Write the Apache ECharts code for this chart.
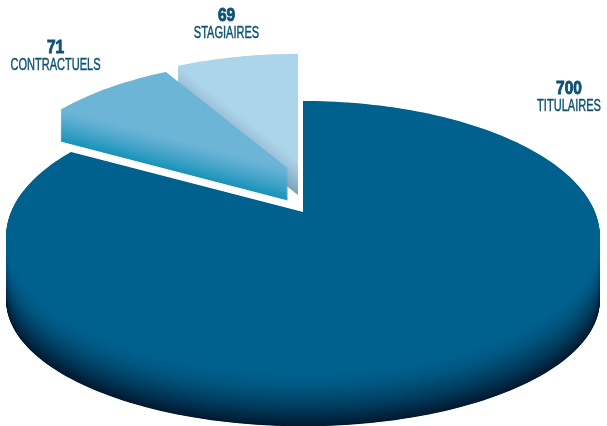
<!DOCTYPE html>
<html>
<head>
<meta charset="utf-8">
<style>html,body{margin:0;padding:0;background:#fff}#chart{width:607px;height:426px}</style>
<script src="https://cdn.jsdelivr.net/npm/echarts@6/dist/echarts.min.js"></script>
</head>
<body>
<div id="chart"></div>
<script>
// Staff breakdown, clockwise from twelve o'clock
const categories = ['TITULAIRES', 'CONTRACTUELS', 'STAGIAIRES'];
const values = [700, 71, 69];

// Appearance of each slice, in the same order
const topColors = ['#00618e', '#6db5d7', '#acd4ea'];
const edgeColors = ['#001a30', '#1a93ba', '#7fa3bb'];
const shadeCurve = [1.6, 1.2, 1.2];
const explode = [[-1, 0], [-16, -43.5], [-6, -51]];
const sliceScale = [1, 0.98, 0.965];
const depths = [64, 32, 34];
const baseSqueeze = [0.93, 1, 1];
const layerOrder = [1, 3, 2];
const labelAnchors = [[569, 89], [55.5, 48], [226.5, 16]];

// Projection of the horizontal disc onto the page
const view = { cx: 304, cy: 212, rx: 292, ry: 131, persp: 0.18, discMidY: 236 };
const total = values.reduce((a, b) => a + b, 0);

function projectUV(u, v) {
  const w = 1 - view.persp * v;
  return [view.rx * u / w, view.ry * v / w];
}
function project(deg) {
  const a = deg * Math.PI / 180;
  return projectUV(Math.sin(a), -Math.cos(a));
}
function wedge(from, to) {
  const pts = [[0, 0]];
  const steps = Math.max(2, Math.round((to - from) / 1.5));
  for (let i = 0; i <= steps; i++) pts.push(project(from + (to - from) * i / steps));
  return pts;
}
function mix(c1, c2, t) {
  const p = c => [1, 3, 5].map(i => parseInt(c.substr(i, 2), 16));
  const a = p(c1), b = p(c2);
  return 'rgb(' + a.map((x, i) => Math.round(x + (b[i] - x) * t)).join(',') + ')';
}

let cursor = 0;
const spans = values.map(v => {
  const s = [cursor, cursor + v / total * 360];
  cursor = s[1];
  return s;
});

const series = categories.map((name, idx) => ({
  type: 'custom',
  name,
  coordinateSystem: 'none',
  silent: true,
  z: layerOrder[idx],
  animation: false,
  data: [values[idx]],
  renderItem() {
    const [ox, oy] = explode[idx];
    const k = sliceScale[idx];
    const top = wedge(spans[idx][0], spans[idx][1])
      .map(p => [view.cx + ox + p[0] * k, view.cy + oy + p[1] * k]);
    const depth = depths[idx];
    const children = [];
    // Stacked copies of the wedge, from the base up, build the shaded rim
    const layers = depth * 2;
    for (let i = layers; i >= 0; i--) {
      const t = i / layers;
      children.push({
        type: 'polygon',
        shape: {
          points: top.map(p => [
            p[0],
            p[1] + t * (depth + (p[1] - view.discMidY) * (baseSqueeze[idx] - 1))
          ])
        },
        style: { fill: mix(topColors[idx], edgeColors[idx], Math.pow(t, shadeCurve[idx])) }
      });
    }
    // Condensed caption look: the installed sans squeezed horizontally
    const [lx, ly] = labelAnchors[idx];
    children.push({
      type: 'text',
      x: lx, y: ly,
      scaleX: 0.86,
      style: {
        text: String(values[idx]),
        font: '900 18px "Liberation Sans",sans-serif',
        fill: '#0d5275', stroke: '#0d5275', lineWidth: 0.9,
        align: 'center', verticalAlign: 'middle'
      }
    }, {
      type: 'text',
      x: lx, y: ly + 18,
      scaleX: 0.69,
      style: {
        text: name,
        font: '16px "Liberation Sans",sans-serif',
        fill: '#0d5275', stroke: '#0d5275', lineWidth: 0.45,
        align: 'center', verticalAlign: 'middle'
      }
    });
    return { type: 'group', children };
  }
}));

const chart = echarts.init(document.getElementById('chart'), null, { renderer: 'canvas' });
chart.setOption({ animation: false, backgroundColor: '#ffffff', series });
</script>
</body>
</html>
